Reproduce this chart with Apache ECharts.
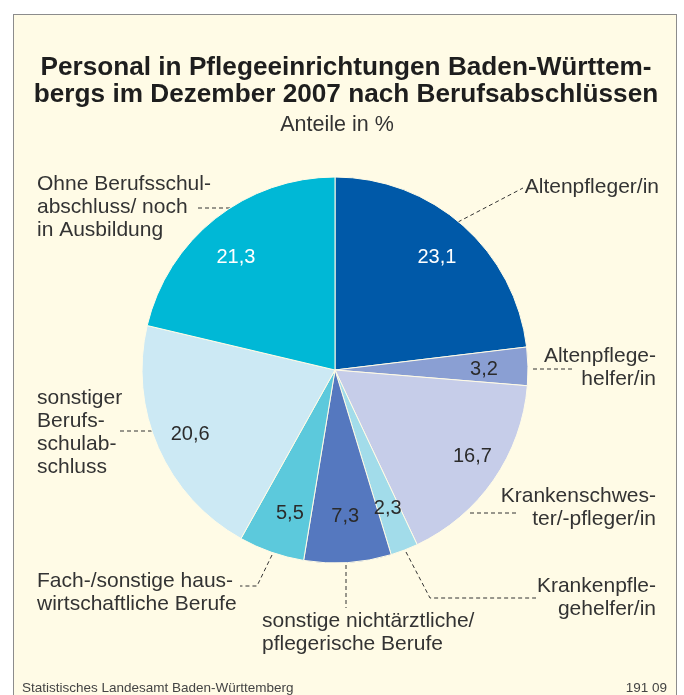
<!DOCTYPE html>
<html>
<head>
<meta charset="utf-8">
<script src="https://cdn.jsdelivr.net/npm/echarts@6/dist/echarts.min.js"></script>
<style>
  html, body { margin: 0; padding: 0; background: #fff; }
  #frame {
    position: absolute; left: 13px; top: 14px; width: 662px; height: 700px;
    border: 1.5px solid #8c8c8c; border-bottom: none; background: #fffbe6;
  }
  #chart { position: absolute; left: 0; top: 0; width: 684px; height: 695px; }
</style>
</head>
<body>
<div id="frame"></div>
<div id="chart"></div>
<script>
// Berufsabschlüsse, Anteile in % (im Uhrzeigersinn ab 12 Uhr)
const categories = [
  'Altenpfleger/in',
  'Altenpflege-\nhelfer/in',
  'Krankenschwes-\nter/-pfleger/in',
  'Krankenpfle-\ngehelfer/in',
  'sonstige nichtärztliche/\npflegerische Berufe',
  'Fach-/sonstige haus-\nwirtschaftliche Berufe',
  'sonstiger\nBerufs-\nschulab-\nschluss',
  'Ohne Berufsschul-\nabschluss/ noch\nin Ausbildung'
];
const shares = [23.1, 3.2, 16.7, 2.3, 7.3, 5.5, 20.6, 21.3];

const sliceColors = ['#0059a8', '#8a9fd3', '#c6cde9', '#a2dcea', '#5578bf', '#5cc9dc', '#cce9f4', '#00b8d6'];
const valueColors = ['#ffffff', '#2b2b2b', '#2b2b2b', '#2b2b2b', '#2b2b2b', '#2b2b2b', '#2b2b2b', '#ffffff'];
// Feinkorrektur der Zahlen im Kreis [dx, dy]
const valueOffsets = [[-1, 3], [-6, 2], [10, -2], [-3, -6], [0, -8], [6, -3], [-3, 2], [-3, 9]];
// Lage der Beschriftungen außen: [x, y, Ausrichtung]
const labelAnchors = [
  [659, 187, 'right'],
  [656, 368, 'right'],
  [656, 508, 'right'],
  [656, 598, 'right'],
  [262, 633, 'left'],
  [37, 593, 'left'],
  [37, 433, 'left'],
  [37, 207, 'left']
];
// gestrichelte Hinweislinien (vom Kreisrand zur Beschriftung)
const guideLines = [
  [[458, 222], [523, 188]],
  [[533, 369], [573, 369]],
  [[470, 513], [517, 513]],
  [[406, 552], [430, 598], [536, 598]],
  [[346, 565], [346, 608]],
  [[272, 555], [257, 586], [240, 586]],
  [[152, 431], [117, 431]],
  [[230, 208], [195, 208]]
];

const chart = echarts.init(document.getElementById('chart'));

const fontFamily = '"Liberation Sans", Arial, sans-serif';
const textColor = '#333';

const nameData = categories.map((name, i) => ({
  name: name,
  value: shares[i],
  itemStyle: { color: sliceColors[i] }
}));

const valueData = categories.map((name, i) => ({
  name: name,
  value: shares[i],
  label: { color: valueColors[i], offset: valueOffsets[i] }
}));

const option = {
  animation: false,
  backgroundColor: 'transparent',
  title: [
    {
      text: 'Personal in Pflegeeinrichtungen Baden-Württem-\nbergs im Dezember 2007 nach Berufsabschlüssen',
      left: 346,
      top: 54,
      textAlign: 'center',
      padding: 0,
      textStyle: { fontFamily: fontFamily, fontSize: 26.2, lineHeight: 27, fontWeight: 'bold', color: '#1e1e1e' }
    },
    {
      text: 'Anteile in %',
      left: 337,
      top: 114,
      textAlign: 'center',
      padding: 0,
      textStyle: { fontFamily: fontFamily, fontSize: 21.5, lineHeight: 22, fontWeight: 'normal', color: textColor }
    },
    {
      text: 'Statistisches Landesamt Baden-Württemberg',
      left: 22,
      bottom: 0,
      padding: 0,
      textStyle: { fontFamily: fontFamily, fontSize: 13.5, fontWeight: 'normal', color: '#444' }
    },
    {
      text: '191 09',
      right: 17,
      bottom: 0,
      padding: 0,
      textStyle: { fontFamily: fontFamily, fontSize: 13.5, fontWeight: 'normal', color: '#444' }
    }
  ],
  series: [
    {
      type: 'pie',
      center: [335, 370],
      radius: [0, 193],
      startAngle: 90,
      clockwise: true,
      avoidLabelOverlap: false,
      silent: true,
      itemStyle: { borderColor: '#fffbe6', borderWidth: 1 },
      label: {
        show: true,
        position: 'outside',
        formatter: '{b}',
        fontFamily: fontFamily,
        fontSize: 21,
        lineHeight: 23,
        color: textColor
      },
      labelLine: {
        show: true,
        lineStyle: { color: '#333', width: 1, type: [4, 3] }
      },
      labelLayout: function (params) {
        const a = labelAnchors[params.dataIndex];
        return {
          x: a[0], y: a[1], align: a[2], verticalAlign: 'middle',
          labelLinePoints: guideLines[params.dataIndex]
        };
      },
      data: nameData
    },
    {
      type: 'pie',
      center: [335, 370],
      radius: [111, 193],
      startAngle: 90,
      clockwise: true,
      silent: true,
      itemStyle: { color: 'rgba(0,0,0,0)' },
      label: {
        show: true,
        position: 'inside',
        formatter: p => p.value.toFixed(1).replace('.', ','),
        fontFamily: fontFamily,
        fontSize: 20
      },
      labelLine: { show: false },
      data: valueData
    }
  ]
};

chart.setOption(option);
</script>
</body>
</html>
